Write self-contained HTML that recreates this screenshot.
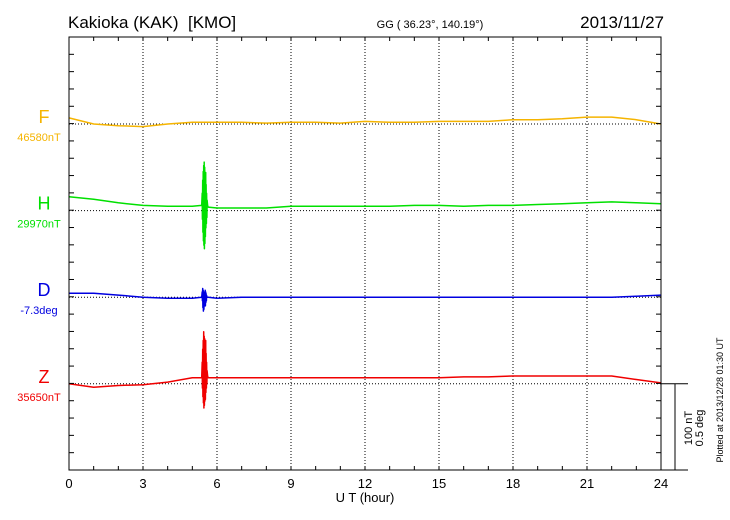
<!DOCTYPE html>
<html><head><meta charset="utf-8"><style>
body{margin:0;background:#fff;}
svg{display:block;font-family:"Liberation Sans",sans-serif;}
</style></head><body>
<svg id="chart" width="730" height="520" viewBox="0 0 730 520" xmlns="http://www.w3.org/2000/svg">
<text x="68" y="28" font-size="17">Kakioka (KAK)&#160;&#160;[KMO]</text>
<text x="430" y="28" font-size="11" text-anchor="middle">GG ( 36.23°, 140.19°)</text>
<text x="664" y="28" font-size="17" text-anchor="end">2013/11/27</text>
<g id="grid"></g>
<g id="series"></g>
<g id="axes"></g>
<text x="365" y="502" font-size="13" text-anchor="middle">U T (hour)</text>
<text transform="translate(692,428) rotate(-90)" font-size="11" text-anchor="middle">100 nT</text>
<text transform="translate(703,428) rotate(-90)" font-size="11" text-anchor="middle">0.5 deg</text>
<text transform="translate(723,400) rotate(-90)" font-size="9" text-anchor="middle">Plotted at 2013/12/28 01:30 UT</text>
</svg>
<script>
const hours = [0,1,2,3,4,5,6,7,8,9,10,11,12,13,14,15,16,17,18,19,20,21,22,23,24];
const xTicks = ["0","3","6","9","12","15","18","21","24"];
const fValues = [7,0,-2,-3,0,2,2,2,1,2,2,1,3,2,2,3,3,3,5,5,6,8,8,5,0];
const hValues = [16,13,9,6,5,5,3,3,3,5,5,5,5,5,6,6,5,6,6,7,8,9,10,9,8];
const dValues = [0.023,0.023,0.012,0,-0.006,-0.006,-0.006,0,0,0,0,0,0,0,0,0,0,0,0,0,0,0,0,0.006,0.012];
const zValues = [0,-4,-2,-1,2,7,7,7,7,7,7,7,7,7,7,7,8,8,9,9,9,9,9,5,1];
const spikeT = [5.38,5.40,5.41,5.42,5.43,5.44,5.45,5.46,5.47,5.48,5.49,5.50,5.51,5.52,5.53,5.54,5.55,5.56,5.57,5.58,5.59,5.60,5.62,5.64];
const hSpike = [6,20,-10,35,-25,45,-35,52,-40,56,-44,50,-38,40,-30,44,-20,30,-15,20,-8,12,6,4];
const dSpike = [0,0.03,-0.02,0.05,-0.06,0.04,-0.08,0.03,-0.07,0.02,-0.04,0.03,-0.05,0.04,-0.05,0.03,-0.03,0.02,-0.02,0.01,0,0,0,0];
const zSpike = [7,25,-5,40,-15,50,-22,60,-28,55,-25,52,-20,45,-18,50,-10,35,-5,25,0,15,9,7];
const baseNames = ["F","H","D","Z"];
const baseLabels = ["46580nT","29970nT","-7.3deg","35650nT"];
const colors = ["#f5b400","#00e000","#0000e0","#f00000"];

const X0=69, X1=661, Y0=37, Y1=470, tickPx=17.32;
const baseY = [124,210.6,297.2,383.8];
const x = h => X0 + h/24*(X1-X0);
const pxPerNT = tickPx*5/100;
const NS="http://www.w3.org/2000/svg";
function mk(tag, attrs, parent){const e=document.createElementNS(NS,tag);for(const k in attrs)e.setAttribute(k,attrs[k]);parent.appendChild(e);return e;}
const grid=document.getElementById('grid'), axes=document.getElementById('axes'), ser=document.getElementById('series'), svg=document.getElementById('chart');

for(let i=1;i<8;i++){const l=mk('line',{x1:x(i*3),x2:x(i*3),y1:Y0,y2:Y1,stroke:'#000','stroke-width':1,'stroke-dasharray':'1,2'},grid);

}
baseY.forEach(y=>{const l=mk('line',{x1:X0,x2:X1,y1:y,y2:y,stroke:'#000','stroke-width':1,'stroke-dasharray':'1,2'},grid);

});

const fr=mk('rect',{x:X0,y:Y0,width:X1-X0,height:Y1-Y0,fill:'none',stroke:'#000','stroke-width':1},axes);


const bx=mk('line',{x1:X1,x2:688,y1:Y1,y2:Y1,stroke:'#000'},axes);


const sh=mk('line',{x1:X1,x2:688,y1:baseY[3],y2:baseY[3],stroke:'#000'},axes);


const sv=mk('line',{x1:675,x2:675,y1:baseY[3],y2:Y1,stroke:'#000'},axes);


for(let h=1;h<24;h++){
 mk('line',{x1:x(h),x2:x(h),y1:Y0,y2:Y0+4,stroke:'#000'},axes);
 mk('line',{x1:x(h),x2:x(h),y1:Y1,y2:Y1-4,stroke:'#000'},axes);}
for(let y=Y1-tickPx;y>Y0+2;y-=tickPx){
 mk('line',{x1:X0,x2:X0+5,y1:y,y2:y,stroke:'#000'},axes);
 mk('line',{x1:X1,x2:X1-5,y1:y,y2:y,stroke:'#000'},axes);}
xTicks.forEach((t,i)=>{const e=mk('text',{x:x(i*3),y:488,'font-size':13,'text-anchor':'middle'},axes);e.textContent=t;

});

baseNames.forEach((n,i)=>{
 const a=mk('text',{x:44,y:baseY[i]-1,'font-size':18,'text-anchor':'middle',fill:colors[i]},svg);a.textContent=n;
 
 
 const b=mk('text',{x:39,y:baseY[i]+17,'font-size':11,'text-anchor':'middle',fill:colors[i]},svg);b.textContent=baseLabels[i];
 
 
});

function series(vals, spike, idx, scale){
 const pts=hours.map((h,i)=>[h,vals[i]]);
 if(spike) spikeT.forEach((t,i)=>pts.push([t,spike[i]]));
 pts.sort((a,b)=>a[0]-b[0]);
 const d=pts.map((p,i)=>(i?'L':'M')+x(p[0]).toFixed(1)+','+(baseY[idx]-p[1]*scale).toFixed(1)).join(' ');
 const p=mk('path',{d:d,fill:'none',stroke:colors[idx],'stroke-width':1.5,'stroke-linejoin':'round'},ser);
 return p;
}
const pF=series(fValues,null,0,pxPerNT);


const pH=series(hValues,hSpike,1,pxPerNT);


const pD=series(dValues,dSpike,2,pxPerNT*200);


const pZ=series(zValues,zSpike,3,pxPerNT);


</script>
</body></html>
